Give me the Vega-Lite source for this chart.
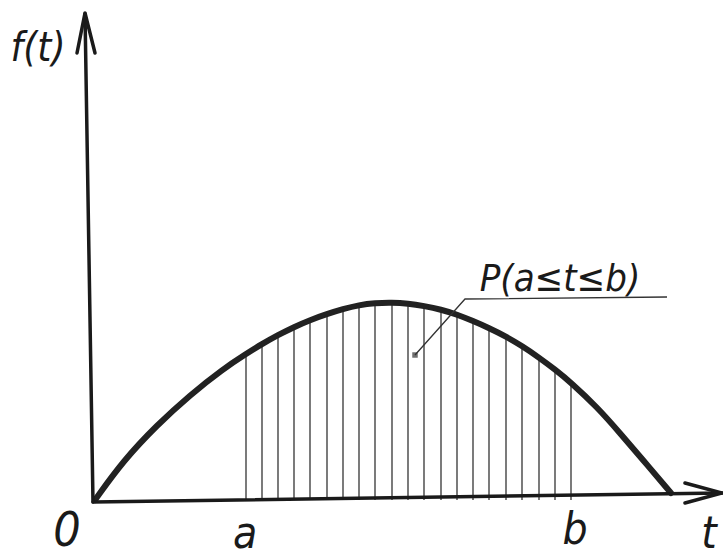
{
  "$schema": "https://vega.github.io/schema/vega-lite/v6.json",
  "width": 723,
  "height": 558,
  "padding": 0,
  "autosize": {"type": "none"},
  "background": "#ffffff",
  "config": {"view": {"stroke": null}},
  "datasets": {
    "curve": [
      {"t": 0, "f": -0.3}, {"t": 2.8, "f": 3.6}, {"t": 6.2, "f": 7.2}, {"t": 9.5, "f": 10.2},
      {"t": 12.8, "f": 12.8}, {"t": 15.1, "f": 14.3}, {"t": 16.7, "f": 15.3}, {"t": 18.3, "f": 16.2},
      {"t": 19.9, "f": 17.0}, {"t": 21.5, "f": 17.7}, {"t": 23.2, "f": 18.3}, {"t": 24.8, "f": 18.8},
      {"t": 26.4, "f": 19.2}, {"t": 28.0, "f": 19.4}, {"t": 29.7, "f": 19.45}, {"t": 31.3, "f": 19.35},
      {"t": 32.9, "f": 19.1}, {"t": 34.6, "f": 18.75}, {"t": 36.2, "f": 18.25}, {"t": 37.8, "f": 17.6},
      {"t": 39.4, "f": 16.9}, {"t": 41.1, "f": 16.05}, {"t": 42.7, "f": 15.1}, {"t": 44.4, "f": 13.95},
      {"t": 46.0, "f": 12.75}, {"t": 47.6, "f": 11.45}, {"t": 50.2, "f": 9.0}, {"t": 52.5, "f": 6.4},
      {"t": 54.8, "f": 3.7}, {"t": 57.6, "f": 0.4}
    ],
    "hatch": [
      {"t": 15.1, "top": 14.3}, {"t": 16.7, "top": 15.3}, {"t": 18.3, "top": 16.2}, {"t": 19.9, "top": 17.0},
      {"t": 21.5, "top": 17.7}, {"t": 23.2, "top": 18.3}, {"t": 24.8, "top": 18.8}, {"t": 26.4, "top": 19.2},
      {"t": 28.0, "top": 19.4}, {"t": 29.7, "top": 19.45}, {"t": 31.3, "top": 19.35}, {"t": 32.9, "top": 19.1},
      {"t": 34.6, "top": 18.75}, {"t": 36.2, "top": 18.25}, {"t": 37.8, "top": 17.6}, {"t": 39.4, "top": 16.9},
      {"t": 41.1, "top": 16.05}, {"t": 42.7, "top": 15.1}, {"t": 44.4, "top": 13.95}, {"t": 46.0, "top": 12.75},
      {"t": 47.6, "top": 11.45}
    ],
    "axes": [
      {"part": "xaxis", "k": 0, "t": -0.2, "f": -0.5}, {"part": "xaxis", "k": 1, "t": 62.7, "f": 0.4},
      {"part": "yaxis", "k": 0, "t": -0.2, "f": -0.5}, {"part": "yaxis", "k": 1, "t": -1.0, "f": 48.4},
      {"part": "xarrow", "k": 0, "t": 59.0, "f": 1.4}, {"part": "xarrow", "k": 1, "t": 62.7, "f": 0.4}, {"part": "xarrow", "k": 2, "t": 59.0, "f": -0.6},
      {"part": "yarrow", "k": 0, "t": -1.8, "f": 44.4}, {"part": "yarrow", "k": 1, "t": -1.0, "f": 48.4}, {"part": "yarrow", "k": 2, "t": 0.0, "f": 44.4}
    ],
    "leader": [
      {"k": 0, "t": 32.0, "f": 14.2}, {"k": 1, "t": 37.0, "f": 19.8}, {"k": 2, "t": 57.2, "f": 20.0}
    ],
    "labels": [
      {"text": "f(t)", "t": -5.7, "f": 43.6, "size": 40},
      {"text": "0", "t": -2.8, "f": -4.9, "size": 48},
      {"text": "a", "t": 15.0, "f": -5.1, "size": 44},
      {"text": "b", "t": 48.0, "f": -4.7, "size": 44},
      {"text": "t", "t": 61.4, "f": -5.1, "size": 44},
      {"text": "P(a≤t≤b)", "t": 46.5, "f": 20.6, "size": 38}
    ]
  },
  "encoding": {
    "x": {"field": "t", "type": "quantitative", "scale": {"domain": [-9.5, 62.8], "nice": false, "zero": false}, "axis": null},
    "y": {"field": "f", "type": "quantitative", "scale": {"domain": [-6.1, 49.7], "nice": false, "zero": false}, "axis": null}
  },
  "layer": [
    {
      "data": {"name": "hatch"},
      "mark": {"type": "rule", "color": "#333333", "strokeWidth": 1.3},
      "encoding": {
        "y": {"field": "top", "type": "quantitative"},
        "y2": {"datum": -0.3}
      }
    },
    {
      "data": {"name": "curve"},
      "mark": {"type": "line", "color": "#222222", "strokeWidth": 6, "interpolate": "basis", "strokeCap": "round"},
      "encoding": {}
    },
    {
      "data": {"name": "axes"},
      "mark": {"type": "line", "color": "#1a1a1a", "strokeWidth": 3.5, "strokeCap": "round", "strokeJoin": "miter"},
      "encoding": {
        "detail": {"field": "part"},
        "order": {"field": "k"}
      }
    },
    {
      "data": {"name": "leader"},
      "mark": {"type": "line", "color": "#333333", "strokeWidth": 1.3},
      "encoding": {"order": {"field": "k"}}
    },
    {
      "data": {"values": [{"t": 32.0, "f": 14.2}]},
      "mark": {"type": "point", "shape": "square", "filled": true, "size": 30, "color": "#333333"},
      "encoding": {}
    },
    {
      "data": {"name": "labels"},
      "mark": {"type": "text", "align": "center", "baseline": "alphabetic", "fontStyle": "italic", "fontWeight": 300, "font": "DejaVu Sans Condensed, Liberation Sans Narrow, DejaVu Sans, sans-serif", "color": "#1a1a1a"},
      "encoding": {
        "text": {"field": "text"},
        "size": {"field": "size", "type": "quantitative", "scale": null}
      }
    }
  ]
}
